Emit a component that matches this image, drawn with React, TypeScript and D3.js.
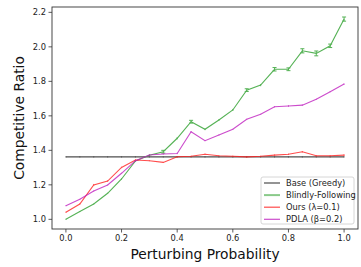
import React from "react";
import * as d3 from "d3";

const xs = [0, 0.05, 0.1, 0.15, 0.2, 0.25, 0.3, 0.35, 0.4, 0.45, 0.5, 0.55, 0.6, 0.65, 0.7, 0.75, 0.8, 0.85, 0.9, 0.95, 1.0];
const baseVals = [1.362, 1.362, 1.362, 1.362, 1.362, 1.362, 1.362, 1.362, 1.362, 1.362, 1.362, 1.362, 1.362, 1.362, 1.362, 1.362, 1.362, 1.362, 1.362, 1.362, 1.362];
const blindVals = [1.0, 1.045, 1.089, 1.151, 1.234, 1.338, 1.372, 1.392, 1.47, 1.566, 1.522, 1.576, 1.634, 1.749, 1.778, 1.87, 1.87, 1.977, 1.962, 2.006, 2.161];
const blindErr = [0, 0.002, 0.003, 0.003, 0.004, 0.004, 0.005, 0.008, 0.006, 0.008, 0.005, 0.005, 0.006, 0.008, 0.006, 0.01, 0.008, 0.012, 0.014, 0.01, 0.012];
const oursVals = [1.041, 1.089, 1.199, 1.222, 1.301, 1.344, 1.34, 1.33, 1.363, 1.366, 1.377, 1.369, 1.366, 1.362, 1.366, 1.372, 1.377, 1.392, 1.369, 1.369, 1.372];
const oursErr = [0.002, 0.002, 0.006, 0.004, 0.004, 0.004, 0.003, 0.003, 0.003, 0.003, 0.004, 0.003, 0.003, 0.003, 0.003, 0.004, 0.004, 0.004, 0.004, 0.004, 0.005];
const pdlaVals = [1.079, 1.116, 1.164, 1.199, 1.267, 1.34, 1.373, 1.379, 1.382, 1.508, 1.456, 1.489, 1.522, 1.58, 1.609, 1.653, 1.657, 1.662, 1.696, 1.74, 1.784];
const pdlaErr = [0.002, 0.002, 0.002, 0.002, 0.002, 0.003, 0.003, 0.004, 0.004, 0.004, 0.003, 0.003, 0.003, 0.003, 0.003, 0.004, 0.005, 0.004, 0.003, 0.003, 0.004];
const baseErr = [0.003, 0.003, 0.003, 0.003, 0.003, 0.003, 0.003, 0.003, 0.003, 0.003, 0.003, 0.003, 0.003, 0.003, 0.003, 0.003, 0.003, 0.003, 0.003, 0.003, 0.003];

const seriesNames = ["Base (Greedy)", "Blindly-Following", "Ours (λ=0.1)", "PDLA (β=0.2)"];
const seriesColors = ["#222222", "#2ca02c", "#ff2020", "#c020c0"];
const xTicks = [0, 0.2, 0.4, 0.6, 0.8, 1.0];
const yTicks = [1.0, 1.2, 1.4, 1.6, 1.8, 2.0, 2.2];

const W = 361, H = 267;
const L = 52, R = 358, T = 7, B = 229;

export default function App() {
  const x = d3.scaleLinear().domain([-0.05, 1.05]).range([L, R]);
  const y = d3.scaleLinear().domain([0.944, 2.231]).range([B, T]);
  const line = d3.line<number>().x((_, i) => x(xs[i])).y((v) => y(v));
  const series = [
    { vals: baseVals, err: baseErr },
    { vals: blindVals, err: blindErr },
    { vals: oursVals, err: oursErr },
    { vals: pdlaVals, err: pdlaErr },
  ];
  const font = "DejaVu Sans, sans-serif";
  const legX = 261, legY = 177, legW = 93, legH = 47;
  return (
    <div style={{ position: "absolute", left: 0, top: 0 }}>
      <svg width={W} height={H} style={{ display: "block", background: "#fff" }}>
        <rect x={0} y={0} width={W} height={H} fill="#fff" />
        {series.map((s, si) => (
          <g key={si} opacity={si === 0 ? 0.8 : 0.8}>
            <path d={line(s.vals) || ""} fill="none" stroke={seriesColors[si]} strokeWidth={1.1} />
            {s.vals.map((v, i) => {
              const e = Math.max(s.err[i], 0.003);
              const px = x(xs[i]);
              return (
                <g key={i} stroke={seriesColors[si]} strokeWidth={1}>
                  <line x1={px} x2={px} y1={y(v - e)} y2={y(v + e)} />
                  {s.err[i] > 0.007 && (
                    <>
                      <line x1={px - 2} x2={px + 2} y1={y(v - e)} y2={y(v - e)} />
                      <line x1={px - 2} x2={px + 2} y1={y(v + e)} y2={y(v + e)} />
                    </>
                  )}
                </g>
              );
            })}
          </g>
        ))}
        <rect x={L} y={T} width={R - L} height={B - T} fill="none" stroke="#333" strokeWidth={0.9} />
        {xTicks.map((t) => (
          <g key={t}>
            <line x1={x(t)} x2={x(t)} y1={B} y2={B + 3.5} stroke="#333" strokeWidth={0.8} />
            <text x={x(t)} y={B + 12} fontSize={8.3} fontFamily={font} textAnchor="middle" fill="#222">{t.toFixed(1)}</text>
          </g>
        ))}
        {yTicks.map((t) => (
          <g key={t}>
            <line x1={L - 3.5} x2={L} y1={y(t)} y2={y(t)} stroke="#333" strokeWidth={0.8} />
            <text x={L - 6} y={y(t) + 3} fontSize={8.3} fontFamily={font} textAnchor="end" fill="#222">{t.toFixed(1)}</text>
          </g>
        ))}
        <text x={(L + R) / 2} y={259} fontSize={13.8} fontFamily={font} textAnchor="middle" fill="#111">Perturbing Probability</text>
        <text transform={`translate(24,${(T + B) / 2}) rotate(-90)`} fontSize={13.8} fontFamily={font} textAnchor="middle" fill="#111">Competitive Ratio</text>
        <rect x={legX} y={legY} width={legW} height={legH} fill="#fff" fillOpacity={0.8} stroke="#ccc" strokeWidth={0.8} rx={2} />
        {seriesNames.map((n, i) => {
          const ly = legY + 6 + i * 12.1;
          return (
            <g key={n}>
              <line x1={legX + 3} x2={legX + 19} y1={ly} y2={ly} stroke={seriesColors[i]} strokeWidth={i === 1 ? 2 : 1.2} opacity={i === 1 ? 0.55 : 0.8} />
              <text x={legX + 25} y={ly + 3} fontSize={8.3} fontFamily={font} fill="#222">{n}</text>
            </g>
          );
        })}
      </svg>
    </div>
  );
}
